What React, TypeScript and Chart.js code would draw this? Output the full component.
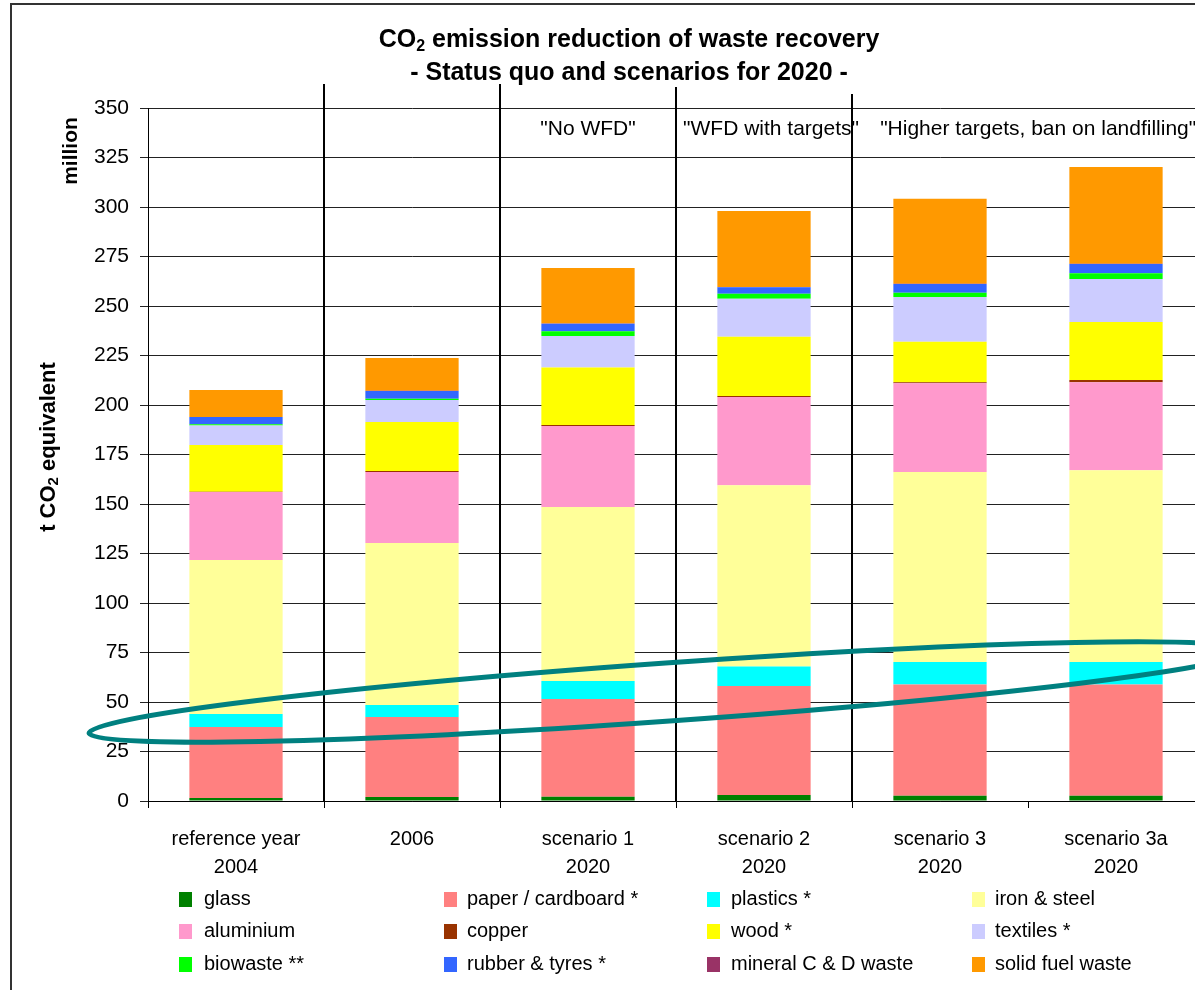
import React, { useEffect, useRef } from "react";
import { Chart, registerables } from "chart.js";

Chart.register(...registerables);

const FONT = '"Liberation Sans", Arial, Helvetica, sans-serif';

// ---------- data ----------
const categoryLines: string[][] = [
  ["reference year", "2004"],
  ["2006"],
  ["scenario 1", "2020"],
  ["scenario 2", "2020"],
  ["scenario 3", "2020"],
  ["scenario 3a", "2020"],
];

const glass = [1.5, 2.0, 2.1, 3.0, 2.6, 2.7];
const paper = [35.9, 40.4, 49.4, 55.1, 56.2, 56.1];
const plastics = [6.5, 6.1, 9.1, 9.8, 11.4, 11.4];
const ironSteel = [77.8, 81.8, 87.9, 91.6, 96.0, 96.9];
const aluminium = [34.3, 35.9, 40.9, 44.5, 44.8, 44.4];
const copper = [0.2, 0.5, 0.5, 0.5, 0.5, 1.1];
const wood = [23.6, 24.7, 29.0, 30.0, 20.4, 29.3];
const textiles = [9.8, 11.1, 15.9, 19.1, 22.6, 21.7];
const biowaste = [0.7, 0.7, 2.5, 2.6, 2.2, 3.0];
const rubber = [3.6, 3.9, 3.7, 3.3, 4.4, 4.6];
const mineral = [0.1, 0.1, 0.1, 0.1, 0.1, 0.1];
const solidFuel = [13.6, 16.5, 28.1, 38.4, 43.0, 48.9];

const seriesNames = [
  "glass",
  "paper / cardboard *",
  "plastics *",
  "iron & steel",
  "aluminium",
  "copper",
  "wood *",
  "textiles *",
  "biowaste **",
  "rubber & tyres *",
  "mineral C & D waste",
  "solid fuel waste",
];
const seriesValues = [
  glass, paper, plastics, ironSteel, aluminium, copper,
  wood, textiles, biowaste, rubber, mineral, solidFuel,
];
const seriesColors = [
  "#008000", "#FF8080", "#00FFFF", "#FFFF99", "#FF99CC", "#993300",
  "#FFFF00", "#CCCCFF", "#00FF00", "#3366FF", "#993366", "#FF9900",
];

const yTicks = { min: 0, max: 350, step: 25 };

// scenario annotations: [text, category position, align]
const annotations: [string, number, "center" | "left"][] = [
  ['"No WFD"', 2.0, "center"],
  ['"WFD with targets"', 3.04, "center"],
  ['"Higher targets, ban on landfilling"', 3.66, "left"],
];
// separators after these category indices
const separatorsAfter = [0, 1, 2, 3];
const separatorTops = [84, 84, 87, 94];

// highlight ellipse (category units, values)
const ellipseLeft = { x: -0.835, v: 34.3 };
const ellipseRight = { x: 5.74, v: 75.8 };
const ellipseHalfHeightPx = 29;

type Seg = { t: string; sub?: boolean };

function drawRich(
  ctx: CanvasRenderingContext2D,
  segs: Seg[],
  x: number,
  y: number,
  size: number,
  subSize: number,
  weight: string,
  align: "center" | "left"
) {
  let w = 0;
  const widths: number[] = [];
  for (const s of segs) {
    ctx.font = `${weight} ${s.sub ? subSize : size}px ${FONT}`;
    const m = ctx.measureText(s.t).width;
    widths.push(m);
    w += m;
  }
  let cx = align === "center" ? x - w / 2 : x;
  ctx.textAlign = "left";
  ctx.textBaseline = "alphabetic";
  segs.forEach((s, i) => {
    ctx.font = `${weight} ${s.sub ? subSize : size}px ${FONT}`;
    ctx.fillText(s.t, cx, s.sub ? y + size * 0.16 : y);
    cx += widths[i];
  });
}

export default function App() {
  const ref = useRef<HTMLCanvasElement>(null);

  useEffect(() => {
    const canvas = ref.current;
    if (!canvas) return;

    const datasets = seriesNames.map((name, i) => ({
      label: name,
      data: seriesValues[i],
      backgroundColor: seriesColors[i],
      borderWidth: 0,
      categoryPercentage: 1,
      barPercentage: 0.53,
    }));

    const overlay = {
      id: "overlay",
      afterDraw(chart: any) {
        const ctx: CanvasRenderingContext2D = chart.ctx;
        const xs = chart.scales.x;
        const ys = chart.scales.y;
        const area = chart.chartArea;
        const p0 = xs.getPixelForValue(0);
        const step = xs.getPixelForValue(1) - p0;
        const catX = (u: number) => p0 + u * step;

        ctx.save();
        ctx.fillStyle = "#000";

        // frame
        ctx.strokeStyle = "#333";
        ctx.lineWidth = 2;
        ctx.strokeRect(11, 4, 2000, 2000);

        // title
        drawRich(
          ctx,
          [{ t: "CO" }, { t: "2", sub: true }, { t: " emission reduction of waste recovery" }],
          629, 47, 25, 16, "bold", "center"
        );
        drawRich(ctx, [{ t: "- Status quo and scenarios for 2020 -" }], 629, 80, 25, 16, "bold", "center");

        // y-axis titles (rotated)
        ctx.save();
        ctx.translate(69, 151);
        ctx.rotate(-Math.PI / 2);
        drawRich(ctx, [{ t: "million" }], 0, 21 * 0.36, 21, 14, "bold", "center");
        ctx.restore();
        ctx.save();
        ctx.translate(47, 447);
        ctx.rotate(-Math.PI / 2);
        drawRich(
          ctx,
          [{ t: "t CO" }, { t: "2", sub: true }, { t: " equivalent" }],
          0, 22 * 0.36, 22, 15, "bold", "center"
        );
        ctx.restore();

        // separators
        ctx.strokeStyle = "#000";
        ctx.lineWidth = 2;
        separatorsAfter.forEach((i, k) => {
          const x = Math.round(catX(i + 0.5));
          ctx.beginPath();
          ctx.moveTo(x, separatorTops[k]);
          ctx.lineTo(x, area.bottom);
          ctx.stroke();
        });

        // annotations
        annotations.forEach(([t, u, align]) => {
          drawRich(ctx, [{ t }], catX(u), 135, 21, 14, "normal", align);
        });

        // category labels
        categoryLines.forEach((lines, i) => {
          lines.forEach((line, j) => {
            drawRich(ctx, [{ t: line }], catX(i), 845 + j * 28, 20, 14, "normal", "center");
          });
        });

        // legend
        const colSw = [179, 444, 707, 972];
        const colTx = [204, 467, 731, 995];
        const rowTop = [892, 924, 957];
        seriesNames.forEach((name, i) => {
          const c = i % 4;
          const r = Math.floor(i / 4);
          ctx.fillStyle = seriesColors[i];
          ctx.fillRect(colSw[c], rowTop[r], 13, 15);
          ctx.fillStyle = "#000";
          drawRich(ctx, [{ t: name }], colTx[c], rowTop[r] + 13, 20, 14, "normal", "left");
        });

        // highlight ellipse
        const lx = catX(ellipseLeft.x);
        const ly = ys.getPixelForValue(ellipseLeft.v);
        const rx = catX(ellipseRight.x);
        const ry = ys.getPixelForValue(ellipseRight.v);
        const cx = (lx + rx) / 2;
        const cy = (ly + ry) / 2;
        const a = Math.hypot(rx - lx, ry - ly) / 2;
        const ang = Math.atan2(ry - ly, rx - lx);
        ctx.strokeStyle = "#008080";
        ctx.lineWidth = 5;
        ctx.beginPath();
        ctx.ellipse(cx, cy, a, ellipseHalfHeightPx, ang, 0, Math.PI * 2);
        ctx.stroke();

        ctx.restore();
      },
    };

    const chart = new Chart(canvas, {
      type: "bar",
      data: { labels: categoryLines.map((l) => l.join(" ")), datasets },
      options: {
        animation: false,
        responsive: false,
        devicePixelRatio: 1,
        layout: { padding: { top: 108, right: 36, bottom: 149, left: 0 } },
        plugins: {
          legend: { display: false },
          title: { display: false },
          tooltip: { enabled: false },
        },
        scales: {
          x: {
            stacked: true,
            offset: true,
            grid: {
              offset: true,
              display: true,
              drawOnChartArea: false,
              tickLength: 7,
              color: "#000",
              lineWidth: 1,
            },
            border: { color: "#000", width: 1 },
            ticks: { display: false },
            afterFit: (s: any) => {
              s.height = 40;
            },
          },
          y: {
            stacked: true,
            min: yTicks.min,
            max: yTicks.max,
            ticks: {
              stepSize: yTicks.step,
              font: { family: FONT, size: 21 },
              color: "#000",
              padding: 11,
            },
            grid: { color: "#222", lineWidth: 1, tickLength: 8 },
            border: { color: "#000", width: 1 },
            afterFit: (s: any) => {
              s.width = 148;
            },
          },
        },
      },
      plugins: [overlay],
    } as any);

    return () => chart.destroy();
  }, []);

  return (
    <div
      style={{
        position: "absolute",
        left: 0,
        top: 0,
        width: 1195,
        height: 990,
        overflow: "hidden",
        background: "#fff",
      }}
    >
      <canvas
        ref={ref}
        width={1240}
        height={990}
        style={{ display: "block", width: 1240, height: 990 }}
      />
    </div>
  );
}
